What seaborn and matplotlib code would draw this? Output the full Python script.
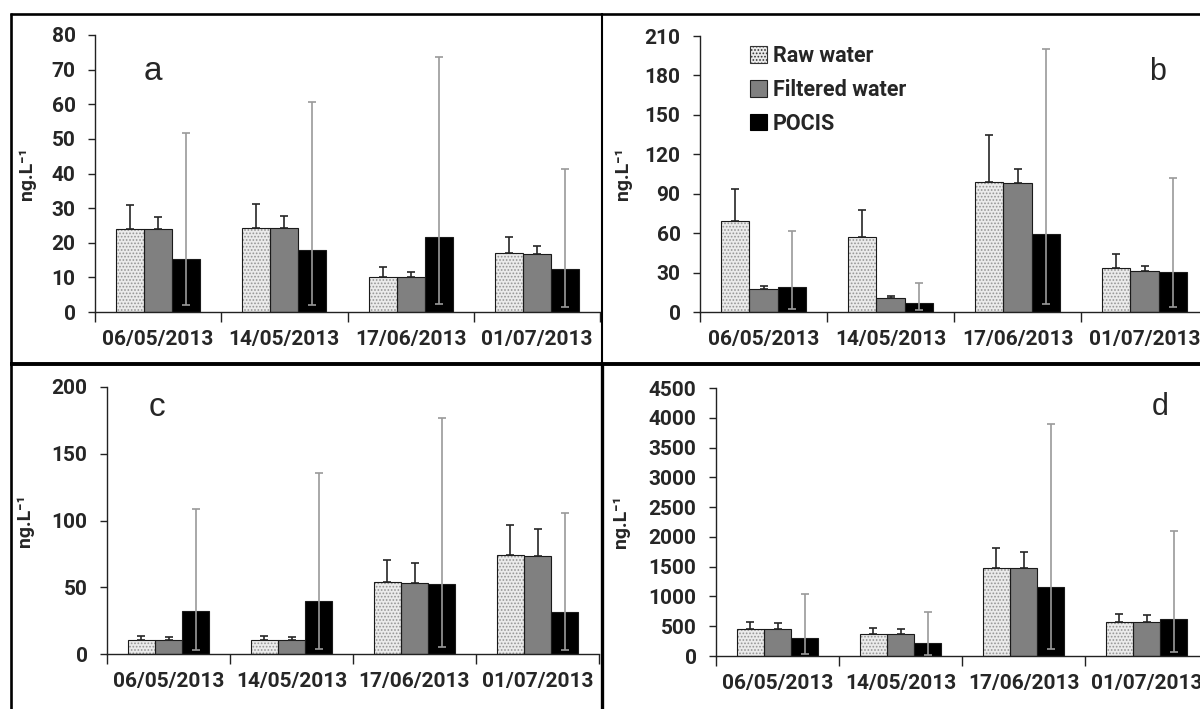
import matplotlib
matplotlib.use('Agg')
import numpy as np
import pandas as pd
import matplotlib.pyplot as plt
from matplotlib.patches import Patch, Rectangle
from matplotlib.lines import Line2D
import seaborn as sns

# categories
dates = ['06/05/2013', '14/05/2013', '17/06/2013', '01/07/2013']
series = ['Raw water', 'Filtered water', 'POCIS']

# panel a
a_raw = [23.9, 24.2, 10.1, 16.9]
a_raw_hi = [30.9, 31.2, 13.0, 21.7]
a_filt = [23.9, 24.2, 10.1, 16.7]
a_filt_hi = [27.4, 27.6, 11.5, 19.0]
a_pocis = [15.3, 18.0, 21.7, 12.3]
a_pocis_lo = [1.9, 2.0, 2.3, 1.4]
a_pocis_hi = [51.7, 60.7, 73.7, 41.4]

# panel b
b_raw = [69.2, 57.3, 99.2, 33.2]
b_raw_hi = [93.8, 77.6, 134.5, 44.1]
b_filt = [17.5, 10.9, 97.9, 31.4]
b_filt_hi = [19.5, 11.9, 108.6, 34.8]
b_pocis = [18.8, 7.1, 59.4, 30.7]
b_pocis_lo = [2.5, 1.5, 6.3, 3.8]
b_pocis_hi = [62.0, 21.8, 200.0, 101.7]

# panel c
c_raw = [10.2, 10.2, 53.9, 74.5]
c_raw_hi = [13.2, 13.2, 70.3, 96.6]
c_filt = [10.2, 10.2, 53.2, 73.5]
c_filt_hi = [12.9, 12.9, 68.1, 93.9]
c_pocis = [32.3, 40.0, 52.2, 31.1]
c_pocis_lo = [3.2, 3.7, 5.0, 3.2]
c_pocis_hi = [108.8, 135.9, 177.1, 105.3]

# panel d
d_raw = [458, 375, 1470, 570]
d_raw_hi = [565, 470, 1817, 710]
d_filt = [458, 375, 1470, 570]
d_filt_hi = [548, 453, 1750, 682]
d_pocis = [307, 218, 1152, 620]
d_pocis_lo = [28, 22, 112, 61]
d_pocis_hi = [1040, 738, 3902, 2096]

sns.set_theme(style='ticks')
plt.rcParams['font.family'] = ['Roboto', 'DejaVu Sans']
plt.rcParams['font.weight'] = 'bold'
plt.rcParams['hatch.linewidth'] = 0.8

W, H = 1200, 709
palette = {'Raw water': '#ebebeb', 'Filtered water': '#808080', 'POCIS': '#000000'}


def px_box(left, right, top, bottom):
    # convert pixel box (origin top-left) to figure coords
    return [left / W, 1 - bottom / H, (right - left) / W, (bottom - top) / H]


def panel(fig, box, raw, raw_hi, filt, filt_hi, pocis, pocis_lo, pocis_hi,
          ymax, ystep, letter, letter_xy, letter_size, ylab_x):
    ax = fig.add_axes(px_box(*box))
    df = pd.DataFrame({
        'date': dates * 3,
        'type': [s for s in series for _ in dates],
        'value': list(raw) + list(filt) + list(pocis),
    })
    sns.barplot(data=df, x='date', y='value', hue='type', order=dates,
                hue_order=series, palette=palette, saturation=1,
                width=0.665, errorbar=None, edgecolor='#1a1a1a',
                linewidth=0.8, legend=False, ax=ax)

    # dotted fill for raw water bars (hatch takes edge colour, so redraw outline)
    for p in ax.containers[0]:
        p.set_hatch('.....')
        p.set_edgecolor('#959595')
        p.set_linewidth(0)
        ax.add_patch(Rectangle(p.get_xy(), p.get_width(), p.get_height(),
                               fill=False, edgecolor='#1a1a1a', lw=0.8,
                               zorder=p.get_zorder() + 0.1))

    def centers(cont):
        return [p.get_x() + p.get_width() / 2 for p in cont]

    # error bars
    for cont, v, hi in [(ax.containers[0], raw, raw_hi), (ax.containers[1], filt, filt_hi)]:
        v = np.array(v, float)
        ax.errorbar(centers(cont), v, yerr=[np.zeros(4), np.array(hi) - v],
                    fmt='none', ecolor='#262626', elinewidth=1.2, capsize=3,
                    capthick=1.2, zorder=5)
    v = np.array(pocis, float)
    ax.errorbar(centers(ax.containers[2]), v,
                yerr=[v - np.array(pocis_lo), np.array(pocis_hi) - v],
                fmt='none', ecolor='#9a9a9a', elinewidth=1.2, capsize=3,
                capthick=1.2, zorder=5)

    ax.set_xlim(-0.5, 3.5)
    ax.set_ylim(0, ymax)
    ax.set_yticks(np.arange(0, ymax + 1, ystep))
    ax.set_xticks(range(4))
    ax.set_xticklabels(dates, fontweight='bold')
    ax.set_xticks([-0.5, 0.5, 1.5, 2.5, 3.5], minor=True)
    ax.tick_params(axis='x', which='major', length=0, pad=13, labelsize=15)
    ax.tick_params(axis='x', which='minor', length=7, width=1, color='#222')
    ax.tick_params(axis='y', length=5, width=1, color='#222', pad=9, labelsize=15)
    sns.despine(ax=ax)
    for s in ['left', 'bottom']:
        ax.spines[s].set_color('#222')
        ax.spines[s].set_linewidth(1)
    ax.set_xlabel('')
    ax.set_ylabel('ng.L\u207b\u00b9', fontsize=14, fontweight='bold')
    left, right, top, bottom = box
    ax.yaxis.set_label_coords((ylab_x - left) / (right - left), 0.5)
    fig.text(letter_xy[0] / W, 1 - letter_xy[1] / H, letter, fontsize=letter_size,
             family='Liberation Sans', fontweight='normal', ha='center', va='center')
    return ax


fig = plt.figure(figsize=(12, 7.09), dpi=100)

panel(fig, (95, 600, 35, 312), a_raw, a_raw_hi, a_filt, a_filt_hi,
      a_pocis, a_pocis_lo, a_pocis_hi, 80, 10, 'a', (153, 72), 24, 36)
panel(fig, (700, 1208, 36, 312), b_raw, b_raw_hi, b_filt, b_filt_hi,
      b_pocis, b_pocis_lo, b_pocis_hi, 210, 30, 'b', (1158, 72), 22, 632)
panel(fig, (107, 599, 387, 654), c_raw, c_raw_hi, c_filt, c_filt_hi,
      c_pocis, c_pocis_lo, c_pocis_hi, 200, 50, 'c', (157, 408), 24, 34)
panel(fig, (716, 1208, 388, 656), d_raw, d_raw_hi, d_filt, d_filt_hi,
      d_pocis, d_pocis_lo, d_pocis_hi, 4500, 500, 'd', (1160, 407), 22, 630)

# legend in panel b
handles = [Patch(facecolor='#ebebeb', edgecolor='#333', hatch='.....', lw=0.8),
           Patch(facecolor='#808080', edgecolor='#222', lw=0.8),
           Patch(facecolor='#000000', edgecolor='#000', lw=0.8)]
fig.legend(handles, series, loc='upper left', bbox_to_anchor=(750 / W, 1 - 45 / H),
           frameon=False, prop={'weight': 'bold', 'size': 15.5}, handlelength=0.8,
           handleheight=0.8, handletextpad=0.25, labelspacing=0.55, borderaxespad=0,
           borderpad=0)

# panel frames
def fline(x0, y0, x1, y1, lw):
    fig.add_artist(Line2D([x0 / W, x1 / W], [1 - y0 / H, 1 - y1 / H],
                          transform=fig.transFigure, color='black', lw=lw,
                          solid_capstyle='butt'))

fline(10, 14, 1200, 14, 1.9)
fline(11, 13, 11, 709, 1.9)
fline(602, 13, 602, 363, 1.5)
fline(602, 363, 602, 709, 2.4)
fline(10, 363.5, 1200, 363.5, 2.8)

fig.savefig('out.png', dpi=100)
